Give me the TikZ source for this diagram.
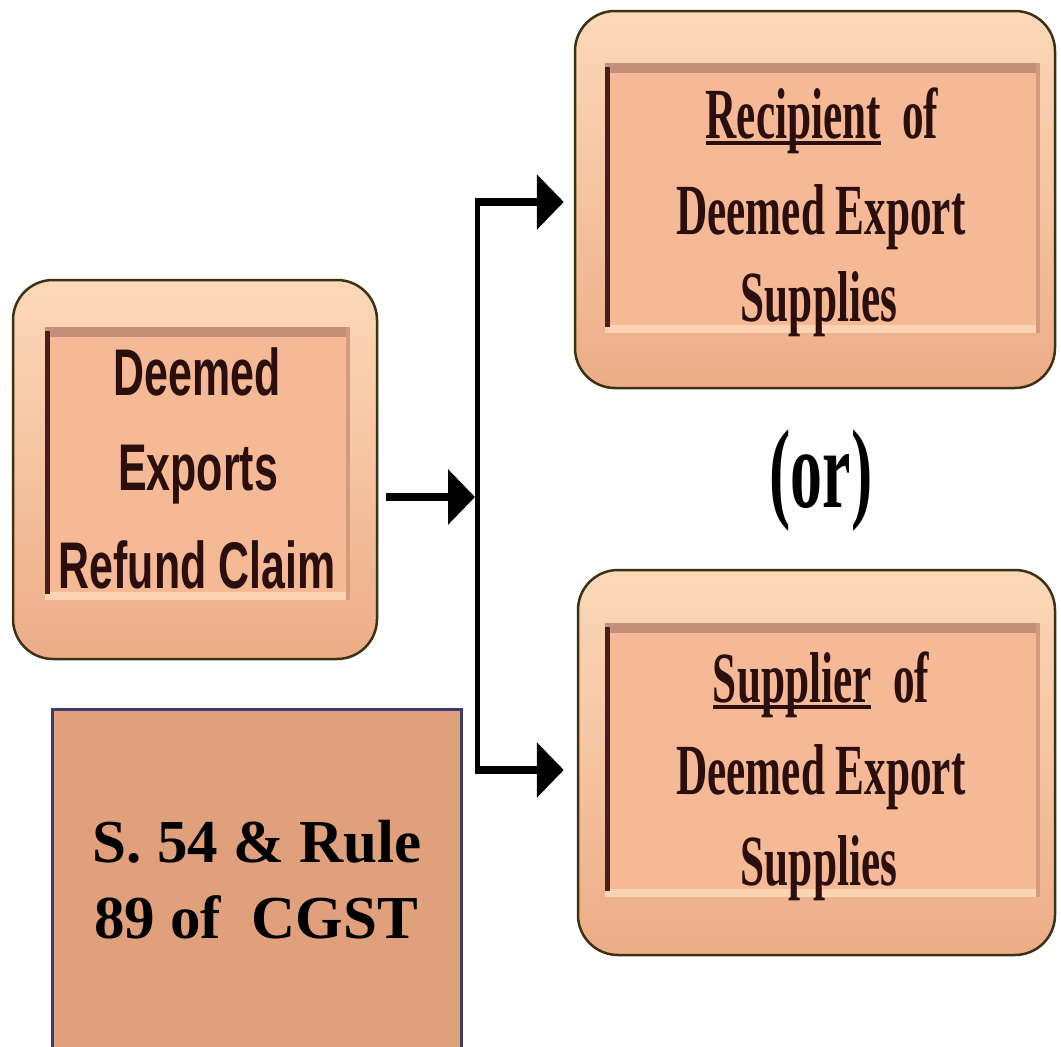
\documentclass[tikz,border=0pt]{standalone}
\usepackage{fontspec}
\usetikzlibrary{arrows.meta}
\setmainfont{Liberation Serif}
\newfontfamily\boxsans[FakeStretch=0.65]{Liberation Sans}
\newfontfamily\boxserif[FakeStretch=0.60]{Liberation Serif}
\newfontfamily\orserif[FakeStretch=0.57]{Liberation Serif}
\newcommand\myul[1]{\setbox0\hbox{#1}\rlap{\rule[-7pt]{\wd0}{4pt}}\box0}
\definecolor{outtop}{HTML}{FBD8B8}
\definecolor{outmid}{HTML}{F6C3A0}
\definecolor{outbot}{HTML}{EBAC86}
\definecolor{outline}{HTML}{3B3214}
\definecolor{innerfill}{HTML}{F6B995}
\definecolor{topband}{HTML}{C38F78}
\definecolor{leftedge}{HTML}{4A1C1C}
\definecolor{botband}{HTML}{FAD3B3}
\definecolor{rightedge}{HTML}{D39B7B}
\definecolor{txtbrown}{HTML}{2B0F0F}
\definecolor{lawfill}{HTML}{E0A07C}
\definecolor{lawline}{HTML}{3D3D6B}
\begin{document}
\begin{tikzpicture}[x=1pt,y=-1pt,
  outerbox/.style={rounded corners=40pt, draw=outline, line width=2.5pt,
    top color=outtop, bottom color=outbot, middle color=outmid, inner sep=0pt},
  innerbox/.style={fill=innerfill, inner sep=0pt},
  sanstxt/.style={anchor=base, text=txtbrown, inner sep=0pt,
    font=\boxsans\bfseries\fontsize{66}{72}\selectfont},
  seriftxt/.style={anchor=base, text=txtbrown, inner sep=0pt,
    font=\boxserif\bfseries\fontsize{72}{78}\selectfont},
  lawtxt/.style={anchor=base, text=black, inner sep=0pt,
    font=\bfseries\fontsize{61}{66}\selectfont},
  arr/.style={line width=8pt, -{Triangle[length=27pt,width=54pt]}}
]
\useasboundingbox[fill=white] (0,0) rectangle (1061,1047);

% left box
\node[outerbox, minimum width=364pt, minimum height=379pt] (claim) at (195,469.5) {};
\node[innerbox, minimum width=305pt, minimum height=273pt] (claimin) at (197.5,463.5) {};
% top-right box
\node[outerbox, minimum width=480pt, minimum height=377pt] (rec) at (815,199.5) {};
\node[innerbox, minimum width=435pt, minimum height=270pt] (recin) at (822.5,198) {};
% bottom-right box
\node[outerbox, minimum width=477pt, minimum height=385pt] (sup) at (816.5,762.5) {};
\node[innerbox, minimum width=435pt, minimum height=274pt] (supin) at (822.5,760) {};

% bevel bands of inner frames
\foreach \b in {claimin,recin,supin}{
  \draw[topband, line width=10pt] ([yshift=-5pt]\b.north west) -- ([yshift=-5pt]\b.north east);
  \draw[botband, line width=8pt] ([yshift=4pt]\b.south west) -- ([yshift=4pt]\b.south east);
  \draw[rightedge, line width=4pt] ([xshift=-2pt]\b.north east) -- ([xshift=-2pt]\b.south east);
  \draw[leftedge, line width=5pt] ([xshift=2.5pt,yshift=-4pt]\b.north west) -- ([xshift=2.5pt,yshift=6pt]\b.south west);
}

% texts of left box
\node[sanstxt] (c1) at (197,395) {Deemed};
\node[sanstxt] (c2) at (198,490) {Exports};
\node[sanstxt] (c3) at (197,588) {Refund Claim};

% texts of top-right box
\node[seriftxt] (r1) at (822,138) {\myul{Recipient}\ \ of};
\node[seriftxt] (r2) at (821,234) {Deemed Export};
\node[seriftxt] (r3) at (819,321) {Supplies};

% texts of bottom-right box
\node[seriftxt] (s1) at (821,702) {\myul{Supplier}\ \ of};
\node[seriftxt] (s2) at (821,794) {Deemed Export};
\node[seriftxt] (s3) at (819,885) {Supplies};

% (or)
\node[anchor=base, inner sep=0pt, font=\orserif\bfseries\fontsize{112}{120}\selectfont] (or) at (821,507) {(or)};

% law box
\node[draw=lawline, line width=3pt, fill=lawfill, minimum width=409pt, minimum height=350pt, inner sep=0pt] (law) at (256.5,884) {};
\node[lawtxt] (l1) at (257,862) {S. 54 \& Rule};
\node[lawtxt] (l2) at (256,938) {89 of\ \ CGST};

% connectors
\coordinate (jt) at (477,202);
\coordinate (jm) at (477,497);
\coordinate (jb) at (477,770);
\draw[line width=5pt] ([yshift=-2.5pt]jt) -- ([yshift=2.5pt]jb);
\draw[arr, shorten <=8pt, shorten >=2pt] (claim.east |- jm) -- (jm);
\draw[arr, shorten >=10pt] ([xshift=-2.5pt]jt) -- (jt -| rec.west);
\draw[arr, shorten >=13pt] ([xshift=-2.5pt]jb) -- (jb -| sup.west);
\end{tikzpicture}
\end{document}
